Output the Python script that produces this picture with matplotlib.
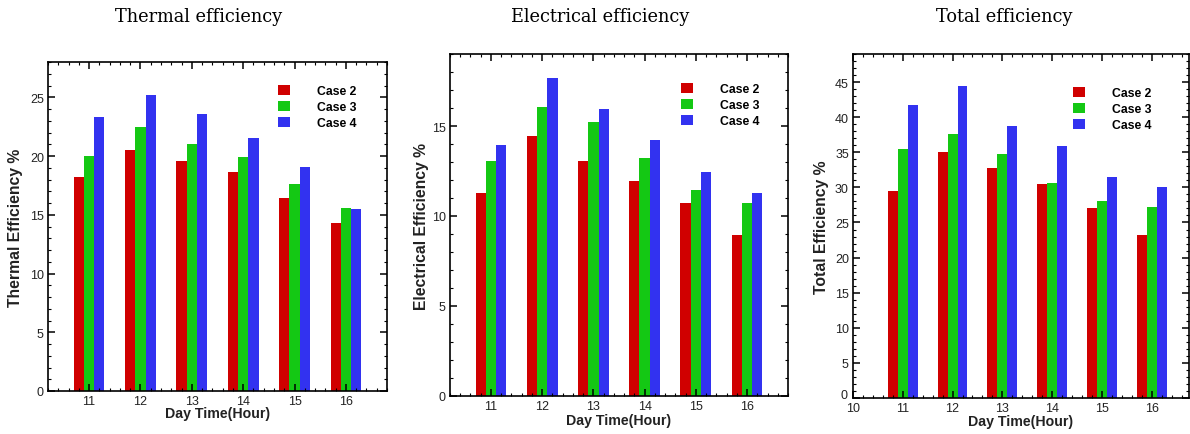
import matplotlib
matplotlib.use("Agg")
import matplotlib.pyplot as plt
import matplotlib.transforms as mtransforms
import numpy as np
from matplotlib.ticker import MultipleLocator

hours = [11, 12, 13, 14, 15, 16]
case_labels = ["Case 2", "Case 3", "Case 4"]

thermal_case2 = [18.2, 20.5, 19.6, 18.6, 16.4, 14.3]
thermal_case3 = [20.0, 22.5, 21.0, 19.9, 17.6, 15.6]
thermal_case4 = [23.3, 25.2, 23.6, 21.5, 19.1, 15.5]

electrical_case2 = [11.3, 14.45, 13.05, 11.95, 10.75, 8.95]
electrical_case3 = [13.05, 16.05, 15.25, 13.25, 11.45, 10.75]
electrical_case4 = [13.95, 17.65, 15.95, 14.25, 12.45, 11.3]

total_case2 = [29.5, 35.0, 32.7, 30.5, 27.1, 23.2]
total_case3 = [35.5, 37.6, 34.7, 30.6, 28.0, 27.2]
total_case4 = [41.8, 44.5, 38.7, 35.9, 31.5, 30.0]

titles = ["Thermal efficiency", "Electrical efficiency", "Total efficiency"]
ylabels = ["Thermal Efficiency %", "Electrical Efficiency %", "Total Efficiency %"]
colors = ["#d00000", "#14c814", "#3232f0"]

W, H = 1190, 435
fig = plt.figure(figsize=(W / 100, H / 100), dpi=100)

def frac(l, t, r, b):
    return [l / W, 1 - b / H, (r - l) / W, (b - t) / H]

panels = [
    dict(rect=frac(48, 63, 387, 392), data=[thermal_case2, thermal_case3, thermal_case4],
         ylim=28, xlim=(10.2, 16.8), ylab_x=23, xlab_y=407, title_x=199, leg=(278, 86)),
    dict(rect=frac(450, 55, 788, 397), data=[electrical_case2, electrical_case3, electrical_case4],
         ylim=19, xlim=(10.2, 16.8), ylab_x=429, xlab_y=414, title_x=600, leg=(681, 84)),
    dict(rect=frac(853, 55, 1189, 399), data=[total_case2, total_case3, total_case4],
         ylim=49, xlim=(10.0, 16.75), ylab_x=829, xlab_y=415, title_x=1004, leg=(1073, 88)),
]

width = 0.2
x = np.array(hours, dtype=float)
for i, p in enumerate(panels):
    ax = fig.add_axes(p["rect"])
    for k, (vals, c, lab) in enumerate(zip(p["data"], colors, case_labels)):
        ax.bar(x + (k - 1) * width, vals, width=width, color=c, label=lab, linewidth=0)
    ax.set_xlim(*p["xlim"])
    ax.set_ylim(0, p["ylim"])
    ax.xaxis.set_major_locator(MultipleLocator(1))
    ax.xaxis.set_minor_locator(MultipleLocator(0.2))
    ax.yaxis.set_major_locator(MultipleLocator(5))
    ax.yaxis.set_minor_locator(MultipleLocator(1))
    ax.tick_params(which="both", direction="in", top=True, right=True, width=1.1,
                   labelsize=9, pad=3, labelcolor="#222222")
    ax.tick_params(which="major", length=5)
    ax.tick_params(which="minor", length=2.5, width=0.8)
    for s in ax.spines.values():
        s.set_linewidth(1.2)
    l, b, w, h = p["rect"]
    axl = l * W
    axb = (1 - b) * H
    ax.set_ylabel(ylabels[i], fontsize=11.3, fontweight="bold", family="Liberation Sans",
                  color="#222222")
    ax.yaxis.set_label_coords((p["ylab_x"] - axl) / (w * W), 0.5)
    ax.set_xlabel("Day Time(Hour)", fontsize=10.2, fontweight="bold", family="Liberation Sans",
                  color="#222222")
    ax.xaxis.set_label_coords(0.5, (axb - p["xlab_y"]) / (h * H))
    for t in ax.get_xticklabels() + ax.get_yticklabels():
        t.set_family("Liberation Sans")
    if i == 2:
        fig.canvas.draw()
        for t in ax.get_yticklabels():
            if t.get_text() == "0":
                t.set_transform(t.get_transform() +
                                mtransforms.ScaledTranslation(-1 / 100, 4 / 100, fig.dpi_scale_trans))
    lx, ly = p["leg"]
    ax.legend(loc="upper left", bbox_to_anchor=((lx - axl) / (w * W), (axb - ly) / (h * H)),
              frameon=False, borderpad=0, borderaxespad=0, handlelength=1.0, handleheight=0.9,
              handletextpad=2.2, labelspacing=0.3,
              prop=dict(family="Liberation Sans", weight="bold", size=8.8))
    fig.text(p["title_x"] / W, 1 - 17 / H, titles[i], ha="center", va="center",
             fontsize=12.8, family="DejaVu Serif")

fig.savefig("out.png", dpi=100)
